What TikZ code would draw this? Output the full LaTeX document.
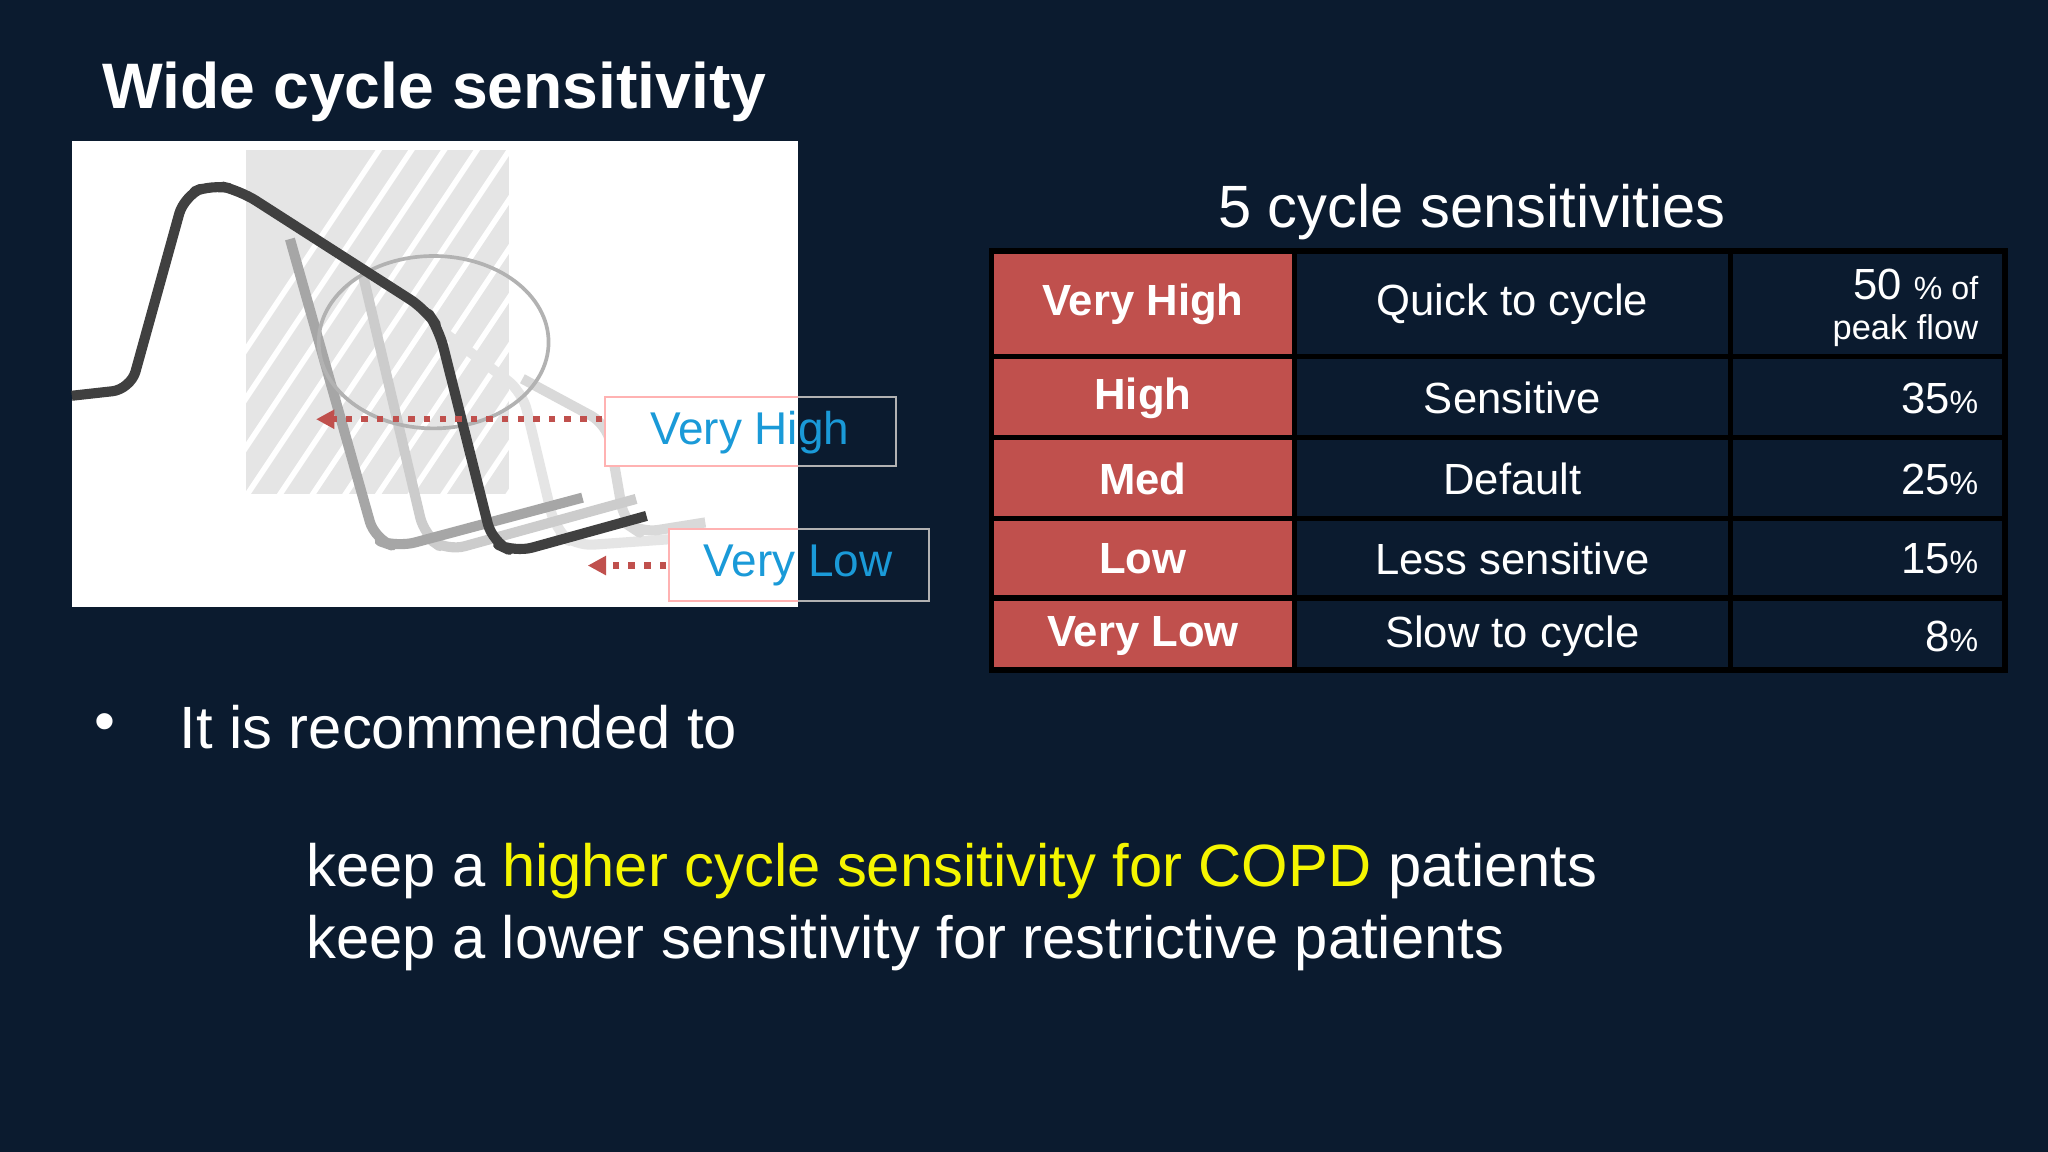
\documentclass[tikz,border=0pt]{standalone}
\usepackage{fontspec}
\setmainfont{Liberation Sans}
\usetikzlibrary{arrows.meta}
\definecolor{bg}{HTML}{0B1B2F}
\definecolor{redc}{HTML}{C0504D}
\definecolor{blu}{HTML}{1A9AD8}
\definecolor{yel}{HTML}{F5F500}
\tikzset{curve/.style={line width=2.2pt,line join=round,rounded corners=4pt},
 cell/.style={text=white,font=\fontsize{9.5}{11}\selectfont},
 darr/.style={draw=redc,dotted,line width=1.4pt,-{Triangle[length=4pt,width=4pt]}}}
\begin{document}
\begin{tikzpicture}[x=0.01cm,y=-0.01cm]
\fill[bg] (0,0) rectangle (1568,882);
\useasboundingbox (0,0) rectangle (1568,882);
\node[anchor=west,text=white,font=\bfseries\fontsize{14}{16}\selectfont] (title) at (66,70) {Wide cycle sensitivity};
% chart
\fill[white] (55,108) rectangle (611,465);
\fill[gray!20] (188,115) rectangle (390,378);
\begin{scope}
\clip (188,115) rectangle (390,378);
\foreach \i in {0,...,16} {\draw[white,line width=1.2pt] (100+\i*25,400) -- (300+\i*25,100);}
\end{scope}
\draw[curve,gray!20] (334,250) -- (400,300) -- (425,405) -- (440,418) -- (553,410);
\draw[curve,gray!30] (400,290) -- (465,325) -- (478,400) -- (490,408) -- (540,400);
\draw[curve,gray!40] (278,211) -- (325,410) -- (342,422) -- (487,382);
\draw[curve,gray!70] (222,183) -- (287,413) -- (304,419) -- (446,381);
\draw[gray!60,line width=0.8pt] (332,262) ellipse (88 and 66);
\draw[curve,black!75] (55,303) -- (100,298) -- (141,150) -- (162,141) -- (184,146) -- (326,237) -- (336,252) -- (377,415) -- (394,423) -- (495,395);
% labels
\fill[white] (463,304) rectangle (611,357);
\fill[white] (512,405) rectangle (611,460);
\draw[red!30] (611,304) -- (463,304) -- (463,357) -- (611,357);
\draw[red!30] (611,405) -- (512,405) -- (512,460) -- (611,460);
\draw[gray!60] (611,304) -- (686,304) -- (686,357) -- (611,357);
\draw[gray!60] (611,405) -- (711,405) -- (711,460) -- (611,460);
\node[text=blu,font=\fontsize{10}{12}\selectfont] (vh) at (574,331) {Very High};
\node[text=blu,font=\fontsize{10}{12}\selectfont] (vl) at (611,433) {Very Low};
\coordinate (vhs) at (461,321);
\coordinate (vls) at (510,433);
\coordinate (vht) at (242,321);
\coordinate (vlt) at (450,433);
\draw[darr] (vhs) -- (vht);
\draw[darr] (vls) -- (vlt);
% table
\node[text=white,font=\fontsize{13}{15}\selectfont] (ttl) at (1127,162) {5 cycle sensitivities};
\fill[redc] (759,192) rectangle (991,513);
\draw[black,line width=1.2pt] (759,192) rectangle (1535,513);
\foreach \y in {273,335,397,458} \draw[black,line width=1.2pt] (759,\y) -- (1535,\y);
\foreach \x in {991,1325} \draw[black,line width=1.2pt] (\x,192) -- (\x,513);
\newcommand{\pc}{\fontsize{7}{8}\selectfont\%}
\foreach \n/\y/\a/\b in {r1/233/Very High/Quick to cycle,r2/305/High/Sensitive,r3/367/Med/Default,r4/428/Low/Less sensitive,r5/487/Very Low/Slow to cycle}{
 \node[cell,font=\bfseries\fontsize{9.5}{11}\selectfont] (\n a) at (875,\y) {\a};
 \node[cell] (\n b) at (1158,\y) {\b};
}
\foreach \n/\y/\c in {r2/305/35,r3/367/25,r4/428/15,r5/487/8}{
 \node[cell,anchor=east] (\n c) at (1527,\y) {\c\pc};
}
\node[cell,anchor=east] (r1c) at (1527,218) {50 {\fontsize{7}{8}\selectfont\% of}};
\node[cell,anchor=east,font=\fontsize{7.5}{8}\selectfont] (r1d) at (1527,253) {peak flow};
% text
\node[text=white,font=\fontsize{13}{15}\selectfont] (bul) at (80,557) {•};
\node[anchor=west,text=white,font=\fontsize{13}{15}\selectfont] (t1) at (125,557) {It is recommended to};
\node[anchor=west,text=white,font=\fontsize{13}{15}\selectfont] (t2) at (222,667) {keep a \textcolor{yel}{higher cycle sensitivity for COPD} patients};
\node[anchor=west,text=white,font=\fontsize{13}{15}\selectfont] (t3) at (222,722) {keep a lower sensitivity for restrictive patients};
\end{tikzpicture}
\end{document}
